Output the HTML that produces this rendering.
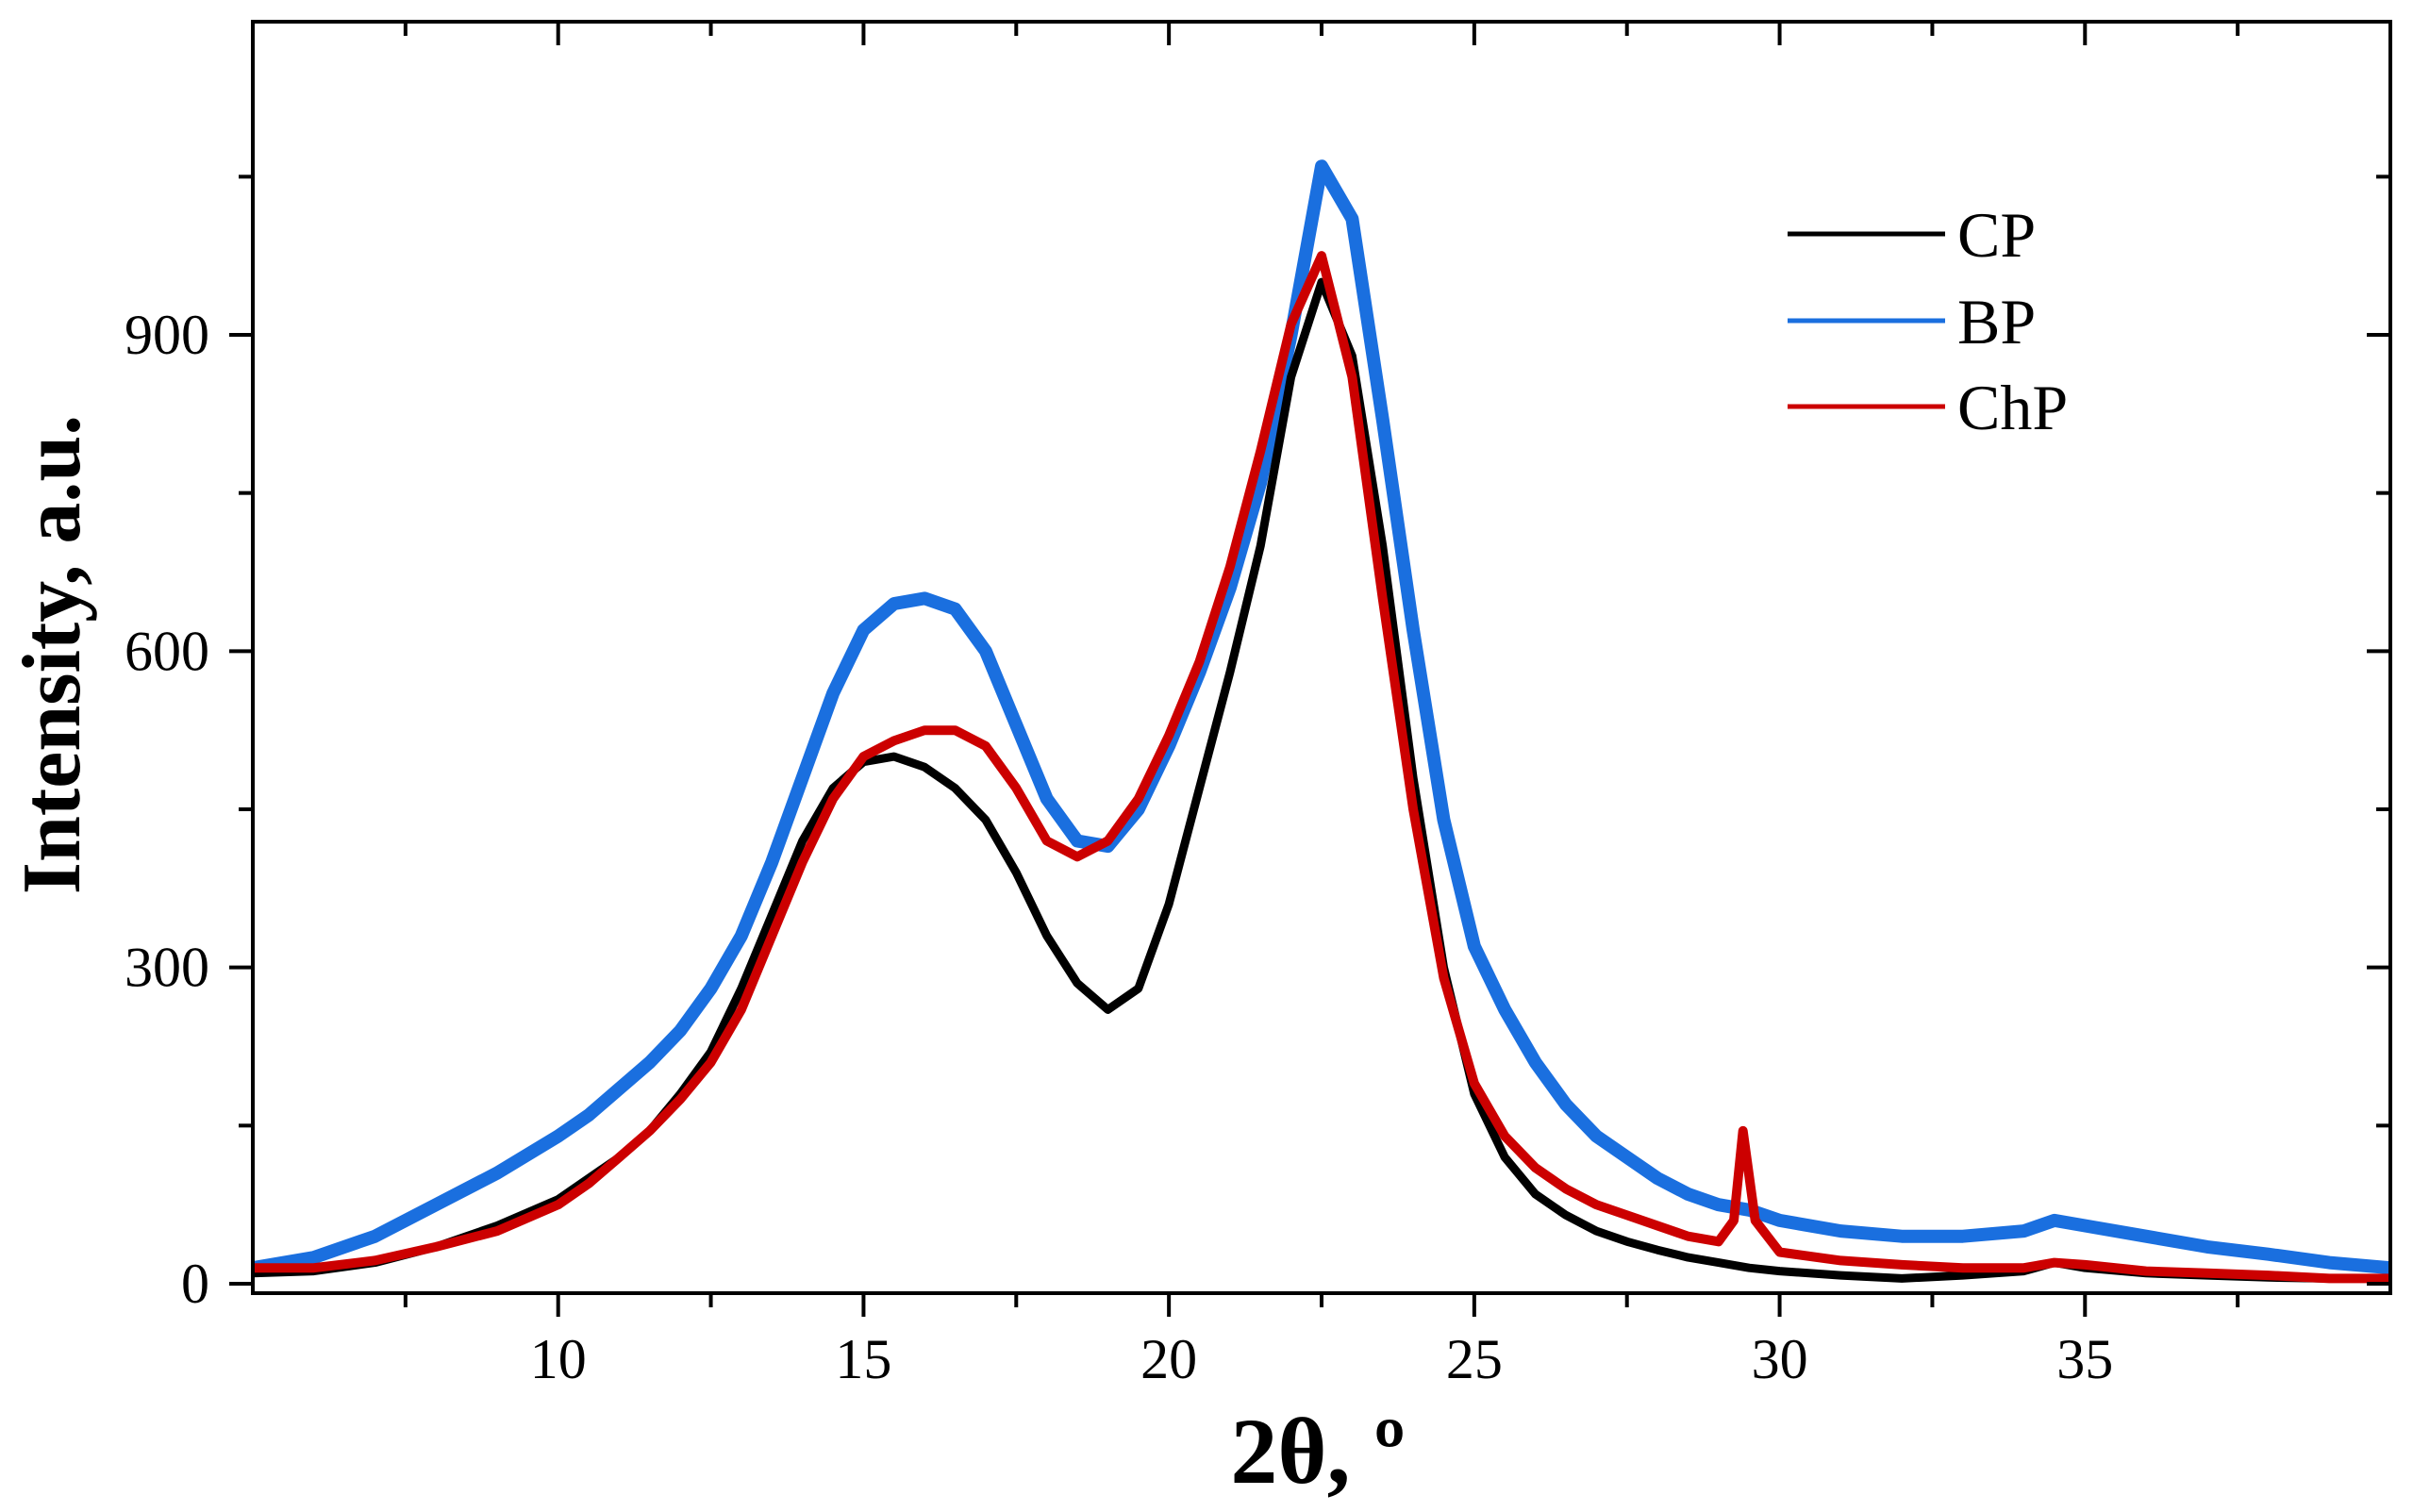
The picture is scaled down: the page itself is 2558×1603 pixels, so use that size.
<!DOCTYPE html>
<html><head><meta charset="utf-8"><style>
html,body{margin:0;padding:0;background:#fff;}
svg{display:block;font-family:"Liberation Serif",serif;}
</style></head><body>
<svg id="chart" width="2558" height="1603" viewBox="0 0 2558 1603" xmlns="http://www.w3.org/2000/svg">
<g id="series"></g>
<g id="axes"></g>
<text transform="translate(84,694) rotate(-90)" text-anchor="middle" font-size="88" font-weight="bold">Intensity, a.u.</text>
<text x="1397" y="1572" text-anchor="middle" font-size="100" font-weight="bold">2θ, º</text>
<g>
<line x1="1895" y1="248" x2="2062" y2="248" stroke="#000" stroke-width="5"/>
<text x="2075" y="272" font-size="68">CP</text>
<line x1="1895" y1="340" x2="2062" y2="340" stroke="#1a6fdf" stroke-width="5"/>
<text x="2075" y="364" font-size="68">BP</text>
<line x1="1895" y1="431" x2="2062" y2="431" stroke="#cc0000" stroke-width="5"/>
<text x="2075" y="455" font-size="68">ChP</text>
</g>
</svg>
<script>
const cpX=[5,6,7,8,9,10,10.5,11,11.5,12,12.5,13,13.5,14,14.5,15,15.5,16,16.5,17,17.5,18,18.5,19,19.5,20,20.5,21,21.5,22,22.5,23,23.5,24,24.5,25,25.5,26,26.5,27,27.5,28,28.5,29,29.5,30,31,32,33,34,34.5,35,36,37,38,39,40];
const cpY=[10,12,20,35,55,80,100,120,145,180,220,280,350,420,470,495,500,490,470,440,390,330,285,260,280,360,470,580,700,860,950,880,700,480,300,180,120,85,65,50,40,32,25,20,15,12,8,5,8,12,20,15,10,8,6,5,5];
const bpX=[5,6,7,8,9,10,10.5,11,11.5,12,12.5,13,13.5,14,14.5,15,15.5,16,16.5,17,17.5,18,18.5,19,19.5,20,20.5,21,21.5,22,22.5,23,23.5,24,24.5,25,25.5,26,26.5,27,27.5,28,28.5,29,29.5,30,31,32,33,34,34.5,35,36,37,38,39,40];
const bpY=[15,25,45,75,105,140,160,185,210,240,280,330,400,480,560,620,645,650,640,600,530,460,420,415,450,510,580,660,760,900,1060,1010,820,620,440,320,260,210,170,140,120,100,85,75,70,60,50,45,45,50,60,55,45,35,28,20,15];
const chpX=[5,6,7,8,9,10,10.5,11,11.5,12,12.5,13,13.5,14,14.5,15,15.5,16,16.5,17,17.5,18,18.5,19,19.5,20,20.5,21,21.5,22,22.5,23,23.5,24,24.5,25,25.5,26,26.5,27,27.5,28,28.5,29,29.25,29.4,29.6,30,31,32,33,34,34.5,35,36,37,38,39,40];
const chpY=[15,15,22,35,50,75,95,120,145,175,210,260,330,400,460,500,515,525,525,510,470,420,405,420,460,520,590,680,790,910,975,860,650,450,290,190,140,110,90,75,65,55,45,40,60,145,60,30,22,18,15,15,20,18,12,10,8,5,5];
const xTicks=[10,15,20,25,30,35];
const yTicks=[0,300,600,900];

const L=268,R=2534,T=23,B=1371;
const xs=v=>L+(v-5)/(40-5)*(R-L);
const ys=v=>1361-v*(1006/900);
const NS='http://www.w3.org/2000/svg';
const sg=document.getElementById('series');
function draw(xa,ya,color,name,w){
  const p=document.createElementNS(NS,'path');
  p.setAttribute('d',xa.map((x,i)=>(i?'L':'M')+xs(x).toFixed(1)+' '+ys(ya[i]).toFixed(1)).join(' '));
  p.setAttribute('fill','none');p.setAttribute('stroke',color);p.setAttribute('stroke-width',w);
  p.setAttribute('stroke-linejoin','round');
  
  
  sg.appendChild(p);
}
draw(bpX,bpY,'#1a6fdf','series-bp',14);
draw(cpX,cpY,'#000','series-cp',9);
draw(chpX,chpY,'#cc0000','series-chp',10);

const ag=document.getElementById('axes');
function line(x1,y1,x2,y2,w,name){
  const l=document.createElementNS(NS,'line');
  l.setAttribute('x1',x1);l.setAttribute('y1',y1);l.setAttribute('x2',x2);l.setAttribute('y2',y2);
  l.setAttribute('stroke','#000');l.setAttribute('stroke-width',w);
  
  
  ag.appendChild(l);
}
function text(x,y,s,anchor,name){
  const t=document.createElementNS(NS,'text');
  t.setAttribute('x',x);t.setAttribute('y',y);t.setAttribute('text-anchor',anchor);t.setAttribute('font-size','60');
  t.textContent=s;
  
  
  ag.appendChild(t);
}
const frame=document.createElementNS(NS,'rect');
frame.setAttribute('x',L);frame.setAttribute('y',T);frame.setAttribute('width',R-L);frame.setAttribute('height',B-T);
frame.setAttribute('fill','none');frame.setAttribute('stroke','#000');frame.setAttribute('stroke-width','4');


ag.appendChild(frame);
for(let v=7.5;v<40;v+=2.5){
  const major=xTicks.includes(v);const len=major?25:15;const x=xs(v);
  line(x,B,x,B+len,4,'x-tick');
  line(x,T,x,T+len,4,'x-tick-top');
}
xTicks.forEach(v=>text(xs(v),B+90,String(v),'middle','x-tick-label'));
for(let v=0;v<=1050;v+=150){
  const major=yTicks.includes(v);const len=major?25:15;const y=ys(v);
  line(L-len,y,L,y,4,'y-tick');
  line(R-len,y,R,y,4,'y-tick-right');
}
yTicks.forEach(v=>text(222,ys(v)+20,String(v),'end','y-tick-label'));
</script>
</body></html>
